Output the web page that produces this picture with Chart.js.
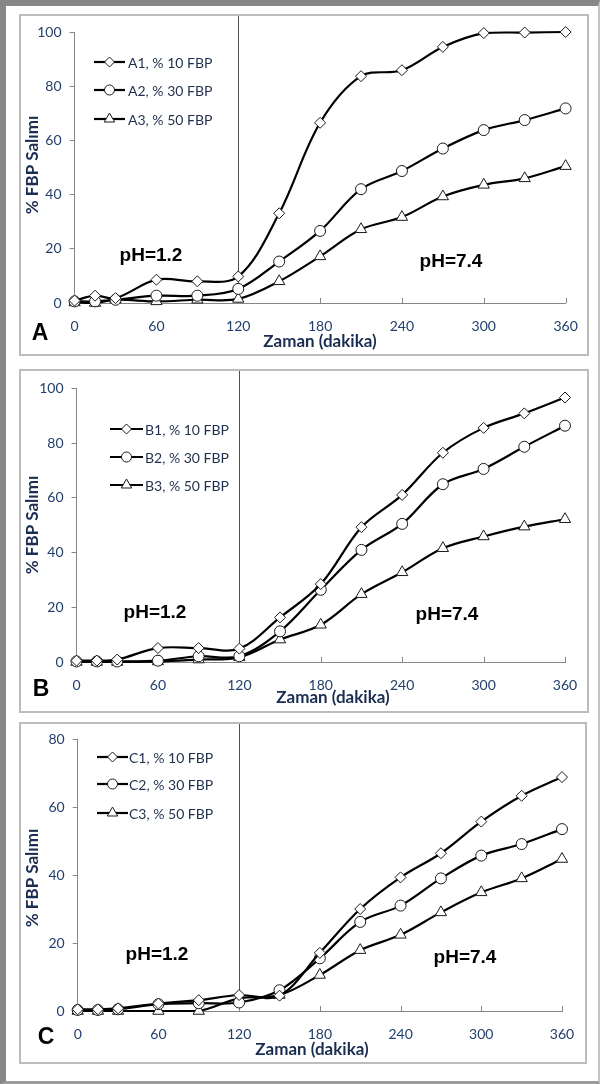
<!DOCTYPE html>
<html><head><meta charset="utf-8">
<script src="https://cdn.jsdelivr.net/npm/chart.js@4.4.1/dist/chart.umd.min.js"></script>
<style>
body{margin:0;background:#fff;width:600px;height:1084px;position:relative;overflow:hidden}
#frame{position:absolute;left:0;top:0;width:600px;height:1084px;box-sizing:border-box;border-left:6px solid #878787;border-top:6px solid #878787;border-right:2px solid #c4c4c4;border-bottom:3px solid #9c9c9c}
.box{position:absolute;box-sizing:border-box;border:2px solid #bcbcbc}
canvas{position:absolute;left:0}
</style></head><body>
<div id="frame"></div>
<div class="box" style="left:19px;top:14px;width:570px;height:342px"></div>
<div class="box" style="left:19px;top:369px;width:570px;height:344px"></div>
<div class="box" style="left:19px;top:722px;width:568px;height:342px"></div>
<canvas id="cA" width="600" height="342" style="top:14px;width:600px;height:342px"></canvas>
<canvas id="cB" width="600" height="344" style="top:369px;width:600px;height:344px"></canvas>
<canvas id="cC" width="600" height="342" style="top:722px;width:600px;height:342px"></canvas>
<script>
// ---- data ----
const times = [0, 15, 30, 60, 90, 120, 150, 180, 210, 240, 270, 300, 330, 360];
const xTicks = [0, 60, 120, 180, 240, 300, 360];
const yTicksAB = [0, 20, 40, 60, 80, 100];
const yTicksC = [0, 20, 40, 60, 80];

const labelsA = ['A1, % 10 FBP', 'A2, % 30 FBP', 'A3, % 50 FBP'];
const A1 = [0.9, 2.7, 1.8, 8.6, 8.0, 9.8, 33.1, 66.5, 83.7, 85.9, 94.5, 99.6, 99.8, 100];
const A2 = [0.6, 0.6, 1.2, 2.7, 2.7, 5.2, 15.3, 26.6, 42.0, 48.7, 57.0, 63.8, 67.5, 71.8];
const A3 = [0.2, 0.0, 1.2, 0.6, 1.2, 1.5, 8.0, 17.2, 27.2, 31.7, 39.3, 43.6, 46.0, 50.5];

const labelsB = ['B1, % 10 FBP', 'B2, % 30 FBP', 'B3, % 50 FBP'];
const B1 = [0.5, 0.5, 0.9, 5.1, 5.1, 4.9, 16.3, 28.5, 49.3, 61.1, 76.5, 85.6, 90.9, 96.7];
const B2 = [0.2, 0.2, 0.2, 0.5, 2.1, 2.1, 11.2, 26.4, 41.0, 50.5, 65.0, 70.6, 78.7, 86.4];
const B3 = [0.0, 0.0, 0.0, 0.2, 0.9, 1.7, 8.2, 13.6, 24.8, 32.8, 41.6, 45.9, 49.5, 52.2];

const labelsC = ['C1, % 10 FBP', 'C2, % 30 FBP', 'C3, % 50 FBP'];
const C1 = [0.5, 0.5, 0.8, 2.2, 3.2, 4.7, 4.5, 17.1, 30.0, 39.3, 46.4, 55.7, 63.3, 68.8];
const C2 = [0.3, 0.3, 0.5, 2.0, 2.3, 2.5, 6.1, 15.5, 26.2, 31.0, 39.0, 45.7, 49.1, 53.5];
const C3 = [0.0, 0.0, 0.0, 0.0, 0.0, 3.7, 4.7, 10.6, 17.9, 22.4, 29.0, 34.9, 39.0, 44.7];

const xTitle = 'Zaman (dakika)';
const yTitle = '% FBP Salımı';
const phLow = 'pH=1.2';
const phHigh = 'pH=7.4';
const boundary = 120;

// ---- styles ----
const markerStyles = ['rectRot', 'circle', 'triangle'];
const markerRadii = [5.5, 5.5, 6.5];
const navy = '#22406c';
const titleNavy = '#1a2d52';
const axisGray = '#868686';

function drawMarker(ctx, style, r, x, y) {
  ctx.beginPath();
  if (style === 'circle') {
    ctx.arc(x, y, r, 0, Math.PI * 2);
  } else if (style === 'rectRot') {
    ctx.moveTo(x - r, y); ctx.lineTo(x, y - r); ctx.lineTo(x + r, y); ctx.lineTo(x, y + r); ctx.closePath();
  } else {
    ctx.moveTo(x, y - r);
    ctx.lineTo(x + r * Math.sin(2 * Math.PI / 3), y - r * Math.cos(2 * Math.PI / 3));
    ctx.lineTo(x + r * Math.sin(4 * Math.PI / 3), y - r * Math.cos(4 * Math.PI / 3));
    ctx.closePath();
  }
  ctx.fillStyle = '#fff'; ctx.fill();
  ctx.lineWidth = 1; ctx.strokeStyle = '#1a1a1a'; ctx.stroke();
}

function makePanel(id, cfg) {
  const canvas = document.getElementById(id);
  const off = cfg.top;
  const H = canvas.height;
  const p = cfg.plot;
  const annot = {
    id: 'annot_' + id,
    beforeDatasetsDraw(chart) {
      const ctx = chart.ctx, xs = chart.scales.x, ca = chart.chartArea;
      ctx.save();
      const bx = Math.round(xs.getPixelForValue(boundary)) + 0.5;
      ctx.strokeStyle = '#505050'; ctx.lineWidth = 1;
      ctx.beginPath(); ctx.moveTo(bx, 2); ctx.lineTo(bx, ca.bottom); ctx.stroke();
      ctx.strokeStyle = axisGray;
      xTicks.forEach(v => {
        const px = Math.round(xs.getPixelForValue(v)) + 0.5;
        ctx.beginPath(); ctx.moveTo(px, ca.bottom); ctx.lineTo(px, ca.bottom - 5); ctx.stroke();
      });
      ctx.restore();
    },
    afterDraw(chart) {
      const ctx = chart.ctx;
      ctx.save();
      // legend
      const L = cfg.legend;
      chart.data.datasets.forEach((ds, i) => {
        const y = L.rows[i] - off;
        ctx.strokeStyle = '#000'; ctx.lineWidth = 2.2;
        ctx.beginPath(); ctx.moveTo(L.x0, y); ctx.lineTo(L.x1, y); ctx.stroke();
        drawMarker(ctx, markerStyles[i], markerRadii[i] - 0.5, (L.x0 + L.x1) / 2, y);
        ctx.fillStyle = '#1f2f4d'; ctx.font = '14px Lato';
        ctx.textAlign = 'left'; ctx.textBaseline = 'middle';
        ctx.fillText(ds.label, L.tx, y + 1);
      });
      // pH labels
      ctx.fillStyle = '#000'; ctx.font = 'bold 19px "Liberation Sans"';
      ctx.textAlign = 'center'; ctx.textBaseline = 'middle';
      ctx.fillText(phLow, cfg.phLow[0], cfg.phLow[1] - off);
      ctx.fillText(phHigh, cfg.phHigh[0], cfg.phHigh[1] - off);
      // panel letter
      ctx.font = 'bold 23px "Liberation Sans"';
      ctx.fillText(cfg.letter, cfg.letterPos[0], cfg.letterPos[1] - off);
      // axis titles
      ctx.fillStyle = titleNavy; ctx.font = 'bold 17px Lato';
      ctx.fillText(xTitle, cfg.xTitle[0], cfg.xTitle[1] - off);
      ctx.translate(cfg.yTitle[0], cfg.yTitle[1] - off);
      ctx.rotate(-Math.PI / 2);
      ctx.font = 'bold 17px Lato';
      ctx.fillText(yTitle, 0, 0);
      ctx.restore();
    }
  };
  return new Chart(canvas, {
    type: 'line',
    data: {
      datasets: cfg.series.map((vals, i) => ({
        label: cfg.labels[i],
        data: times.map((t, j) => ({ x: t, y: vals[j] })),
        borderColor: '#000', borderWidth: 2.2, tension: 0.35, fill: false,
        pointStyle: markerStyles[i], pointRadius: markerRadii[i],
        pointBackgroundColor: '#fff', pointBorderColor: '#1a1a1a', pointBorderWidth: 1,
        clip: false
      }))
    },
    options: {
      responsive: false, animation: false, devicePixelRatio: 1,
      layout: { padding: { left: 0, right: 600 - p.right, top: p.top - off, bottom: 0 } },
      plugins: { legend: { display: false }, tooltip: { enabled: false } },
      scales: {
        x: {
          type: 'linear', min: 0, max: 360,
          afterBuildTicks: s => { s.ticks = xTicks.map(v => ({ value: v })); },
          ticks: { color: navy, font: { family: 'Lato', size: 14 }, padding: 7, maxRotation: 0 },
          grid: { display: false },
          border: { display: true, color: axisGray, width: 1 },
          afterFit: s => { s.height = off + H - p.bottom; }
        },
        y: {
          type: 'linear', min: 0, max: cfg.yMax,
          afterBuildTicks: s => { s.ticks = cfg.yTicks.map(v => ({ value: v })); },
          ticks: { color: navy, font: { family: 'Lato', size: 14 }, padding: 8 },
          grid: { display: true, drawOnChartArea: false, drawTicks: true, tickLength: 5, color: axisGray },
          border: { display: true, color: axisGray, width: 1 },
          afterFit: s => { s.width = p.left; }
        }
      }
    },
    plugins: [annot]
  });
}

makePanel('cA', {
  top: 14, series: [A1, A2, A3], labels: labelsA, yMax: 100, yTicks: yTicksAB,
  plot: { left: 74.6, right: 565.6, top: 32, bottom: 303 },
  legend: { x0: 94, x1: 125, tx: 128, rows: [62, 90, 119] },
  phLow: [151, 256], phHigh: [451, 262], letter: 'A', letterPos: [40, 334],
  xTitle: [320, 342], yTitle: [33, 165]
});
makePanel('cB', {
  top: 369, series: [B1, B2, B3], labels: labelsB, yMax: 100, yTicks: yTicksAB,
  plot: { left: 76.5, right: 565, top: 388.5, bottom: 662 },
  legend: { x0: 110, x1: 143, tx: 145, rows: [429, 457, 485] },
  phLow: [155, 613], phHigh: [447, 615], letter: 'B', letterPos: [41, 690],
  xTitle: [333, 698], yTitle: [33, 525]
});
makePanel('cC', {
  top: 722, series: [C1, C2, C3], labels: labelsC, yMax: 80, yTicks: yTicksC,
  plot: { left: 77.7, right: 562, top: 739, bottom: 1011 },
  legend: { x0: 97, x1: 128, tx: 129, rows: [757, 784, 813] },
  phLow: [157, 955], phHigh: [465, 958], letter: 'C', letterPos: [46, 1038],
  xTitle: [312, 1050], yTitle: [33, 878]
});
</script>
</body></html>
